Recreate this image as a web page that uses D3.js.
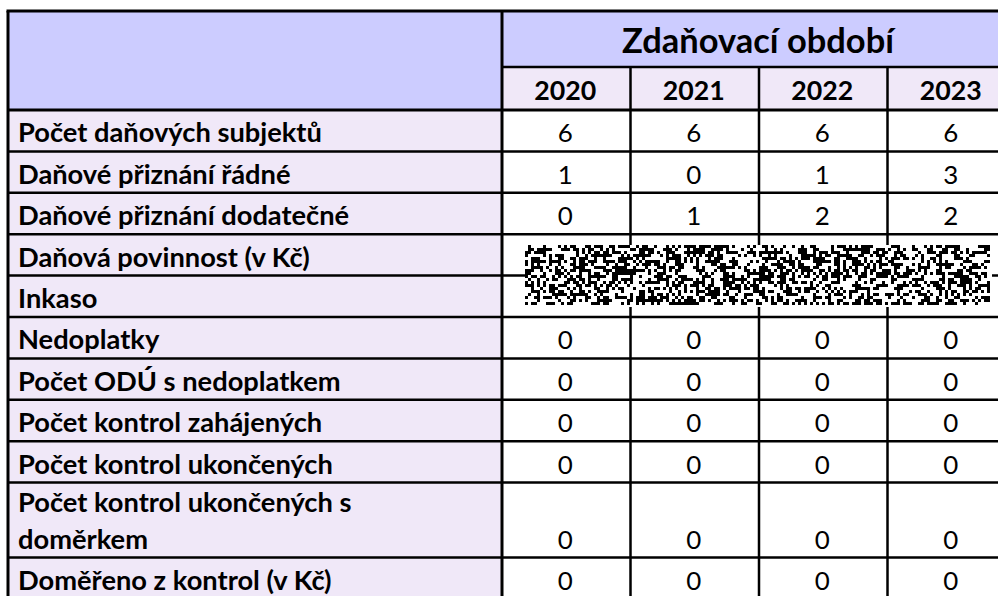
<!DOCTYPE html>
<html><head><meta charset="utf-8">
<script src="https://cdn.jsdelivr.net/npm/d3@7"></script>
<style>html,body{margin:0;padding:0;background:#fff;overflow:hidden}</style>
</head><body>
<svg id="c" width="998" height="596"></svg>
<script>
const title = "Zdaňovací období";
const years = ["2020", "2021", "2022", "2023"];
const rowLabels = [
  ["Počet daňových subjektů"],
  ["Daňové přiznání řádné"],
  ["Daňové přiznání dodatečné"],
  ["Daňová povinnost (v Kč)"],
  ["Inkaso"],
  ["Nedoplatky"],
  ["Počet ODÚ s nedoplatkem"],
  ["Počet kontrol zahájených"],
  ["Počet kontrol ukončených"],
  ["Počet kontrol ukončených s", "doměrkem"],
  ["Doměřeno z kontrol (v Kč)"]
];
const v2020 = [6, 1, 0, null, null, 0, 0, 0, 0, 0, 0];
const v2021 = [6, 0, 1, null, null, 0, 0, 0, 0, 0, 0];
const v2022 = [6, 1, 2, null, null, 0, 0, 0, 0, 0, 0];
const v2023 = [6, 3, 2, null, null, 0, 0, 0, 0, 0, 0];
const values = [v2020, v2021, v2022, v2023];

const FONT = "Lato, 'Open Sans', sans-serif";
const svg = d3.select("#c");

// layout
const xL = 8, xD = 502, xR = 1016;
const yTop = 11, yMid = 67, yHead = 110;
const singleH = 41.4, doubleH = 75;
const x = d3.scaleBand().domain(years).range([xD, xR]);
const bounds = [yHead];
rowLabels.forEach(l => bounds.push(bounds[bounds.length-1] + (l.length > 1 ? doubleH : singleH)));

function fitSize(text, weight, target) {
  const t = svg.append("text").attr("font-family", FONT).attr("font-weight", weight)
    .attr("font-size", 100).text(text);
  const w = t.node().getComputedTextLength();
  t.remove();
  return 100 * target / w;
}
const labelSize = fitSize("Počet daňových subjektů", "bold", 304);
const titleSize = fitSize(title, "bold", 272);
const yearSize = fitSize("2020", "bold", 62);
const valSize = labelSize * 0.95;

// backgrounds
svg.append("rect").attr("x", xL).attr("y", yTop).attr("width", xR - xL).attr("height", yMid - yTop).attr("fill", "#CCCCFF");
svg.append("rect").attr("x", xL).attr("y", yTop).attr("width", xD - xL).attr("height", yHead - yTop).attr("fill", "#CCCCFF");
svg.append("rect").attr("x", xD).attr("y", yMid).attr("width", xR - xD).attr("height", yHead - yMid).attr("fill", "#F0E8F8");
svg.append("rect").attr("x", xL).attr("y", yHead).attr("width", xD - xL).attr("height", 700).attr("fill", "#F0E8F8");

// title and years
svg.append("text").attr("x", (xD + xR) / 2 - 1).attr("y", 53).attr("text-anchor", "middle")
  .attr("font-family", FONT).attr("font-weight", "bold").attr("font-size", titleSize).attr("fill", "#000").text(title);
svg.selectAll(".yr").data(years).join("text").attr("class", "yr")
  .attr("x", d => x(d) + x.bandwidth() / 2 - 1).attr("y", 100).attr("text-anchor", "middle")
  .attr("font-family", FONT).attr("font-weight", "bold").attr("font-size", yearSize).text(d => d);

// row labels
rowLabels.forEach((lines, i) => {
  const bottom = bounds[i + 1];
  lines.forEach((ln, j) => {
    svg.append("text").attr("x", 18).attr("y", bottom - 9 - (lines.length - 1 - j) * 37)
      .attr("font-family", FONT).attr("font-weight", "bold").attr("font-size", labelSize).attr("fill", "#000").text(ln);
  });
});

// values
values.forEach((vals, k) => {
  vals.forEach((v, i) => {
    if (v === null) return;
    svg.append("text").attr("x", x(years[k]) + x.bandwidth() / 2 - 1).attr("y", bounds[i + 1] - 9)
      .attr("text-anchor", "middle").attr("font-family", FONT).attr("font-size", valSize).attr("fill", "#000").text(v);
  });
});

// grid lines
const g = svg.append("g").attr("stroke", "#000");
bounds.slice(1).forEach(b => g.append("line").attr("x1", xL).attr("x2", xR).attr("y1", b).attr("y2", b).attr("stroke-width", 2.5));
g.append("line").attr("x1", xL).attr("x2", xR).attr("y1", yHead).attr("y2", yHead).attr("stroke-width", 3);
g.append("line").attr("x1", xD).attr("x2", xR).attr("y1", yMid).attr("y2", yMid).attr("stroke-width", 2.5);
g.append("line").attr("x1", xL - 1.5).attr("x2", xR).attr("y1", yTop).attr("y2", yTop).attr("stroke-width", 3);
g.append("line").attr("x1", xL).attr("x2", xL).attr("y1", yTop).attr("y2", 700).attr("stroke-width", 3);
g.append("line").attr("x1", xD).attr("x2", xD).attr("y1", yTop).attr("y2", 700).attr("stroke-width", 3);
years.slice(1).forEach(yv => g.append("line").attr("x1", x(yv)).attr("x2", x(yv)).attr("y1", yMid).attr("y2", 700).attr("stroke-width", 2.5));

// redaction block (deterministic pixel pattern)
const rx0 = 525, ry0 = 245, rw = 467, rh = 62, cell = 3;
const red = svg.append("g");
red.append("rect").attr("x", rx0).attr("y", ry0).attr("width", rw).attr("height", rh).attr("fill", "#fff");
let seed = 12345;
function lcg() { seed = (seed * 1103515245 + 12345) % 2147483648; return seed / 2147483648; }
const cells = [];
for (let cy = 0; cy < Math.floor(rh / cell); cy++) {
  for (let cx = 0; cx < Math.floor(rw / cell); cx++) {
    if (lcg() < 0.5) cells.push([cx, cy]);
  }
}
red.selectAll("rect.n").data(cells).join("rect").attr("class", "n")
  .attr("x", d => rx0 + d[0] * cell).attr("y", d => ry0 + d[1] * cell)
  .attr("width", cell).attr("height", cell).attr("fill", "#000");
</script>
</body></html>
